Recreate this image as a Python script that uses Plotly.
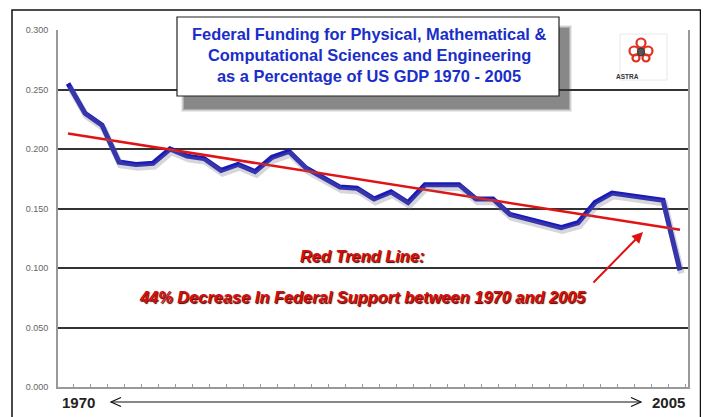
import numpy as np
import plotly.graph_objects as go

# ---- data ----
period_index = list(range(37))  # evenly spaced observations, 1970 ... 2005
pct_gdp = [0.255, 0.230, 0.220, 0.189, 0.187, 0.188, 0.200, 0.194, 0.192, 0.182,
           0.187, 0.181, 0.193, 0.198, 0.184, 0.176, 0.168, 0.167, 0.158, 0.164,
           0.155, 0.170, 0.170, 0.170, 0.158, 0.158, 0.145, 0.141, 0.138, 0.134,
           0.138, 0.155, 0.163, 0.161, 0.160, 0.157, 0.098]
y_ticks = [0.0, 0.05, 0.10, 0.15, 0.20, 0.25, 0.30]
y_tick_labels = ["0.000", "0.050", "0.100", "0.150", "0.200", "0.250", "0.300"]
start_label = "1970"
end_label = "2005"
title_lines = ["Federal Funding for Physical, Mathematical &",
               "Computational Sciences and Engineering",
               "as a Percentage of US GDP 1970 - 2005"]
note_1 = "Red Trend Line:"
note_2 = "44% Decrease In Federal Support between 1970 and 2005"

# linear trend computed from the series
coef = np.polyfit(period_index, pct_gdp, 1)
trend = list(np.polyval(coef, period_index))

# page has an 8px body margin, so the figure is sized/offset to compensate
OFF = 8
W, H = 709 - OFF, 417 - OFF
PL, PR, PT, PB = 58, 688, 30, 387          # plot area in page pixels
L, R, T, B = PL - OFF, W - (PR - OFF), PT - OFF, H - (PB - OFF)
pw, ph = PR - PL, PB - PT


def px(x):
    return (x - PL) / pw


def py(y):
    return (PB - y) / ph


XR = [-0.59, 36.47]
YR = [0.0, 0.3]
# shadow axes: shift by a few pixels
dy = 3 * (YR[1] - YR[0]) / ph
dx = 1.5 * (XR[1] - XR[0]) / pw

FONT = "Liberation Sans, Arial, sans-serif"

fig = go.Figure()
# soft shadow of the blue line
fig.add_trace(go.Scatter(x=period_index, y=pct_gdp, mode="lines", xaxis="x2", yaxis="y2",
                         line=dict(color="rgba(120,120,140,0.30)", width=6.5),
                         hoverinfo="skip", showlegend=False))
fig.add_trace(go.Scatter(x=period_index, y=pct_gdp, mode="lines",
                         line=dict(color="#1a1ab8", width=5),
                         name="% of GDP", showlegend=False))
fig.add_trace(go.Scatter(x=period_index, y=trend, mode="lines",
                         line=dict(color="#e01414", width=2.6),
                         name="Trend", showlegend=False))

shapes = []
# outer border
shapes.append(dict(type="rect", xref="paper", yref="paper",
                   x0=px(12), x1=px(700.5), y0=py(430), y1=py(10),
                   line=dict(color="#111", width=1.5), fillcolor="rgba(0,0,0,0)", layer="above"))
# title box shadow (layered)
for i, op in enumerate([0.10, 0.15, 0.22, 0.32]):
    g = 4 - i
    shapes.append(dict(type="rect", xref="paper", yref="paper",
                       x0=px(181 + i), x1=px(568 + g), y0=py(108 + g), y1=py(25 + i),
                       line=dict(width=0), fillcolor=f"rgba(55,55,55,{op})", layer="above"))
shapes.append(dict(type="rect", xref="paper", yref="paper",
                   x0=px(177), x1=px(559), y0=py(96), y1=py(17),
                   line=dict(color="#222", width=1.2), fillcolor="white", layer="above"))
# logo box
shapes.append(dict(type="rect", xref="paper", yref="paper",
                   x0=px(620), x1=px(667), y0=py(80), y1=py(34),
                   line=dict(color="#e8e8e8", width=1), fillcolor="white", layer="above"))
# logo: red rings
for cx, cy, r in [(641, 43, 4.5), (634, 51, 4.5), (648, 51, 4.5), (636, 58, 3.5), (646, 58, 3.5)]:
    shapes.append(dict(type="circle", xref="paper", yref="paper",
                       x0=px(cx - r), x1=px(cx + r), y0=py(cy + r), y1=py(cy - r),
                       line=dict(color="#e03020", width=2.2), fillcolor="rgba(0,0,0,0)", layer="above"))
shapes.append(dict(type="circle", xref="paper", yref="paper",
                   x0=px(637.5), x1=px(644.5), y0=py(56), y1=py(48),
                   line=dict(color="#333", width=1), fillcolor="#555", layer="above"))
# bottom double arrow
shapes.append(dict(type="line", xref="paper", yref="paper",
                   x0=px(111), x1=px(641), y0=py(402), y1=py(402),
                   line=dict(color="#111", width=1.2)))
shapes.append(dict(type="path", xref="paper", yref="paper",
                   path=f"M {px(121)} {py(397.5)} L {px(111)} {py(402)} L {px(121)} {py(406.5)}",
                   line=dict(color="#111", width=1.2)))
shapes.append(dict(type="path", xref="paper", yref="paper",
                   path=f"M {px(631)} {py(397.5)} L {px(641)} {py(402)} L {px(631)} {py(406.5)}",
                   line=dict(color="#111", width=1.2)))

annotations = []
for i, line in enumerate(title_lines):
    annotations.append(dict(xref="paper", yref="paper", x=px(369), y=py(34 + 21 * i),
                            text=f"<b>{line}</b>", showarrow=False, xanchor="center", yanchor="middle",
                            font=dict(family=FONT, size=16.4, color="#1a2ec8")))
annotations.append(dict(xref="paper", yref="paper", x=px(641), y=py(71), text="<b>ASTRA</b>",
                        showarrow=False, font=dict(family=FONT, size=6.5, color="#333")))
red_font = dict(family=FONT, size=16.4, color="#d80c0c", shadow="1px 1px 1px #3a0000")
annotations.append(dict(xref="paper", yref="paper", x=px(362), y=py(256), text=f"<b><i>{note_1}</i></b>",
                        showarrow=False, xanchor="center", yanchor="middle", font=red_font))
annotations.append(dict(xref="paper", yref="paper", x=px(362), y=py(297), text=f"<b><i>{note_2}</i></b>",
                        showarrow=False, xanchor="center", yanchor="middle", font=red_font))
annotations.append(dict(xref="paper", yref="paper", x=px(643), y=py(232), ax=-51, ay=52,
                        text="", showarrow=True, arrowhead=2, arrowsize=1.1, arrowwidth=2,
                        arrowcolor="#e01010"))
annotations.append(dict(xref="paper", yref="paper", x=px(78), y=py(402), text=f"<b>{start_label}</b>",
                        showarrow=False, xanchor="center", yanchor="middle",
                        font=dict(family=FONT, size=15, color="#222")))
annotations.append(dict(xref="paper", yref="paper", x=px(668), y=py(402), text=f"<b>{end_label}</b>",
                        showarrow=False, xanchor="center", yanchor="middle",
                        font=dict(family=FONT, size=15, color="#222")))

fig.update_layout(
    width=W, height=H,
    margin=dict(l=L, r=R, t=T, b=B),
    paper_bgcolor="white", plot_bgcolor="white",
    showlegend=False,
    xaxis=dict(range=XR, showgrid=False, zeroline=False, showticklabels=False,
               ticks="inside", ticklen=3, tickcolor="#999", tick0=0.35, dtick=1,
               showline=True, linecolor="#999", linewidth=2),
    yaxis=dict(range=YR, tickvals=y_ticks, ticktext=y_tick_labels,
               tickfont=dict(family=FONT, size=9, color="#666"), ticklabelstandoff=6,
               showgrid=True, gridcolor="#333", gridwidth=1.5, zeroline=False,
               showline=True, linecolor="#999", linewidth=2, mirror=True, ticks=""),
    xaxis2=dict(range=[XR[0] - dx, XR[1] - dx], overlaying="x", visible=False),
    yaxis2=dict(range=[YR[0] + dy, YR[1] + dy], overlaying="y", visible=False),
    shapes=shapes,
    annotations=annotations,
)

fig.write_html("out.html")
